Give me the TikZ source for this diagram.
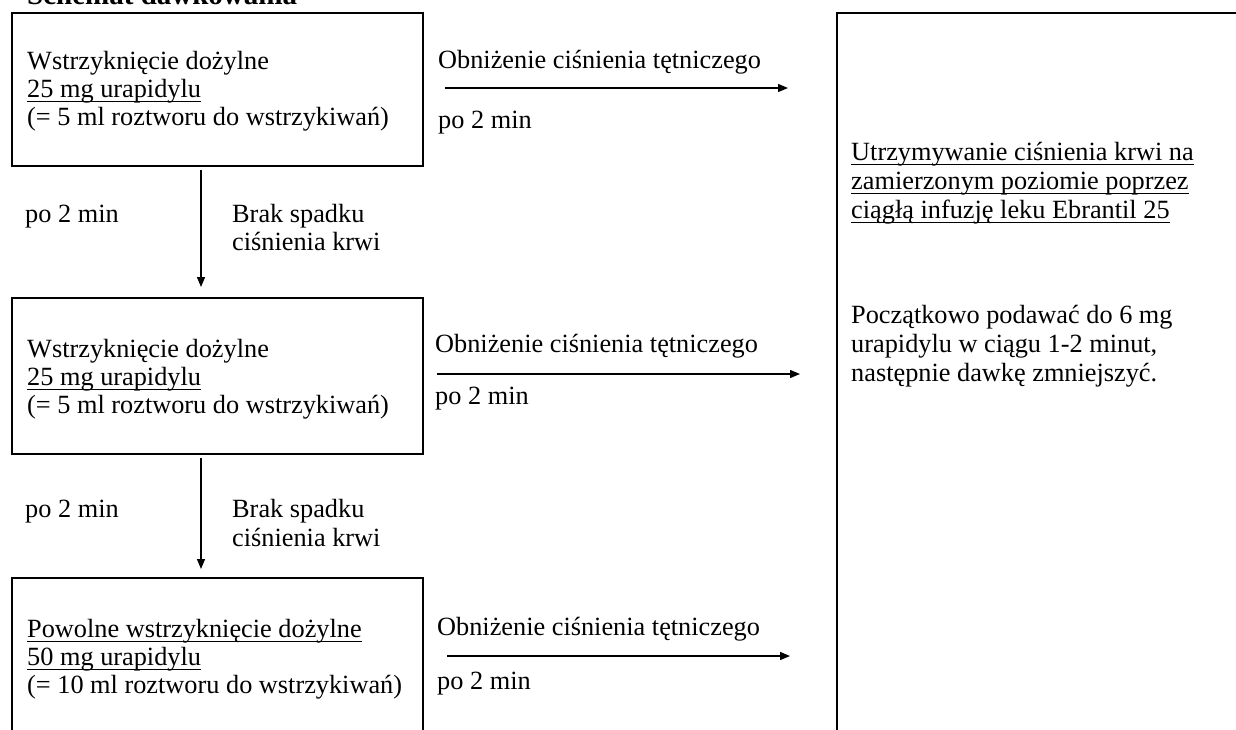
\documentclass[tikz,border=0pt]{standalone}
\usepackage{fontspec}
\setmainfont{Liberation Serif}
\usetikzlibrary{arrows.meta}
\newcommand{\bodyfont}{\fontsize{26.3}{28.5}\selectfont}
\newcommand{\ulnode}[1]{\draw[uline] ([yshift=-4.5pt]#1.base west) -- ([yshift=-4.5pt]#1.base east);}
\tikzset{
  box/.style={draw, line width=2pt, inner sep=0pt, anchor=north west},
  txt/.style={inner sep=0pt, anchor=base west, font=\bodyfont},
  arr/.style={line width=1.3pt, -{Triangle[length=10pt,width=8pt]}},
  uline/.style={line width=1.3pt},
}
\begin{document}
\begin{tikzpicture}[x=1pt,y=-1pt]
\useasboundingbox (0,0) rectangle (1236,729);
\clip (0,0) rectangle (1236,729);
% title
\node[inner sep=0pt, anchor=base west, font=\fontsize{29}{31}\selectfont\bfseries] (title) at (27,4) {Schemat dawkowania};
% boxes
\node[box, minimum width=411pt, minimum height=153pt] (b1) at (11,12) {};
\node[box, minimum width=411pt, minimum height=156pt] (b2) at (11,297) {};
\node[box, minimum width=411pt, minimum height=200pt] (b3) at (11,577) {};
\node[box, minimum width=450pt, minimum height=760pt] (rb) at (836,12) {};
% box texts
\node[txt] (b1a) at (27,69) {Wstrzyknięcie dożylne};
\node[txt] (b1b) at (27,97) {25 mg urapidylu};
\node[txt] (b1c) at (27,125) {(= 5 ml roztworu do wstrzykiwań)};
\node[txt] (b2a) at (27,357) {Wstrzyknięcie dożylne};
\node[txt] (b2b) at (27,385) {25 mg urapidylu};
\node[txt] (b2c) at (27,413) {(= 5 ml roztworu do wstrzykiwań)};
\node[txt] (b3a) at (27,637) {Powolne wstrzyknięcie dożylne};
\node[txt] (b3b) at (27,665) {50 mg urapidylu};
\node[txt] (b3c) at (27,693) {(= 10 ml roztworu do wstrzykiwań)};
\ulnode{b1b}
\ulnode{b2b}
\ulnode{b3a}
\ulnode{b3b}
% gap labels
\node[txt] (g1p) at (25,222) {po 2 min};
\node[txt] (g1a) at (232,222) {Brak spadku};
\node[txt] (g1b) at (232,250) {ciśnienia krwi};
\node[txt] (g2p) at (25,517) {po 2 min};
\node[txt] (g2a) at (232,517) {Brak spadku};
\node[txt] (g2b) at (232,546) {ciśnienia krwi};
% horizontal labels
\node[txt] (h1a) at (438,68) {Obniżenie ciśnienia tętniczego};
\node[txt] (h1b) at (438,128) {po 2 min};
\node[txt] (h2a) at (435,352) {Obniżenie ciśnienia tętniczego};
\node[txt] (h2b) at (435,404) {po 2 min};
\node[txt] (h3a) at (437,635) {Obniżenie ciśnienia tętniczego};
\node[txt] (h3b) at (437,689) {po 2 min};
% right box texts
\node[txt] (r1) at (851,160) {Utrzymywanie ciśnienia krwi na};
\node[txt] (r2) at (851,189) {zamierzonym poziomie poprzez};
\node[txt] (r3) at (851,218) {ciągłą infuzję leku Ebrantil 25};
\ulnode{r1}
\ulnode{r2}
\ulnode{r3}
\node[txt] (r4) at (851,323) {Początkowo podawać do 6 mg};
\node[txt] (r5) at (851,352) {urapidylu w ciągu 1-2 minut,};
\node[txt] (r6) at (851,381) {następnie dawkę zmniejszyć.};
% connectors
\coordinate (vx) at (201,0);
\coordinate (y1) at (0,88);
\coordinate (y2) at (0,374);
\coordinate (y3) at (0,656);
\draw[arr, shorten <=3pt, shorten >=10pt] (vx |- b1.south) -- (vx |- b2.north);
\draw[arr, shorten <=3pt, shorten >=8pt] (vx |- b2.south) -- (vx |- b3.north);
\draw[arr, shorten <=21pt, shorten >=48pt] (b1.east |- y1) -- (rb.west |- y1);
\draw[arr, shorten <=13pt, shorten >=36pt] (b2.east |- y2) -- (rb.west |- y2);
\draw[arr, shorten <=23pt, shorten >=46pt] (b3.east |- y3) -- (rb.west |- y3);
\end{tikzpicture}
\end{document}
